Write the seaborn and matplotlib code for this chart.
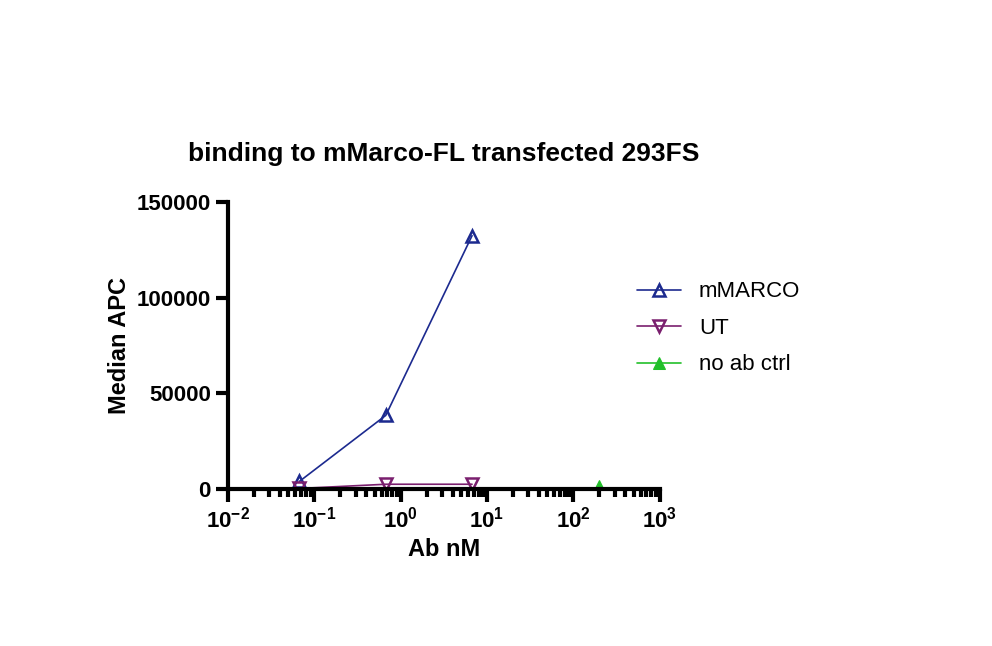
import numpy as np
import pandas as pd
import matplotlib
matplotlib.use("Agg")
import matplotlib.pyplot as plt
import seaborn as sns
from matplotlib.ticker import LogLocator, FixedLocator

sns.set_style("ticks")
plt.rcParams["font.family"] = ["Liberation Sans", "DejaVu Sans"]
plt.rcParams["font.weight"] = "bold"
plt.rcParams["text.color"] = "black"
plt.rcParams["axes.labelcolor"] = "black"
plt.rcParams["xtick.color"] = "black"
plt.rcParams["ytick.color"] = "black"
plt.rcParams["axes.edgecolor"] = "black"

# data
conc = [0.067, 0.67, 6.7]
mmarco = [4000, 38500, 132500]
ut = [300, 2500, 2500]
ctrl_x = [200]
ctrl_y = [1500]

df = pd.DataFrame({"x": conc * 2, "y": mmarco + ut,
                   "series": ["mMARCO"] * 3 + ["UT"] * 3})

fig = plt.figure(figsize=(9.92, 6.46), dpi=100)
ax = fig.add_axes([0.230, 0.243, 0.435, 0.444])

sns.lineplot(data=df[df.series == "mMARCO"], x="x", y="y", ax=ax, color="#1c2a8f",
             marker="^", markersize=9, markerfacecolor="none", markeredgewidth=1.8,
             markeredgecolor="#1c2a8f", linewidth=1.2, label="mMARCO")
sns.lineplot(data=df[df.series == "UT"], x="x", y="y", ax=ax, color="#7a1f6e",
             marker="v", markersize=9, markerfacecolor="none", markeredgewidth=1.8,
             markeredgecolor="#7a1f6e", linewidth=1.2, label="UT")
ax.lines[-1].set_linestyle("none")
sns.lineplot(x=ctrl_x, y=ctrl_y, ax=ax, color="#22c02a", marker="^", markersize=8,
             markeredgecolor="#22c02a", linewidth=1.2, label="no ab ctrl")

ax.set_xscale("log")
ax.set_xlim(1e-2, 1e3)
ax.set_ylim(0, 150000)
ax.yaxis.set_major_locator(FixedLocator([0, 50000, 100000, 150000]))
ax.xaxis.set_major_locator(LogLocator(base=10, numticks=10))
ax.xaxis.set_minor_locator(LogLocator(base=10, subs=np.arange(2, 10), numticks=10))
for s in ["top", "right"]:
    ax.spines[s].set_visible(False)
for s in ["left", "bottom"]:
    ax.spines[s].set_linewidth(3)
ax.tick_params(which="major", width=3, length=9, labelsize=16)
ax.tick_params(which="minor", width=3, length=6)
ax.set_xlabel("Ab nM", fontsize=17, fontweight="bold")
ax.set_ylabel("Median APC", fontsize=17, fontweight="bold")
ax.set_title("binding to mMarco-FL transfected 293FS", fontsize=19,
             fontweight="bold", pad=30)
for lbl in ax.get_xticklabels() + ax.get_yticklabels():
    lbl.set_fontweight("bold")

# UT legend handle without line, like the reference
handles, labels = ax.get_legend_handles_labels()
handles[1].set_linestyle("-")
ax.legend(handles, labels, loc="center left", bbox_to_anchor=(0.9, 0.56),
          frameon=False, handlelength=2.0, labelspacing=0.7,
          prop={"weight": "normal", "size": 16})

fig.savefig("out.png", dpi=100)
